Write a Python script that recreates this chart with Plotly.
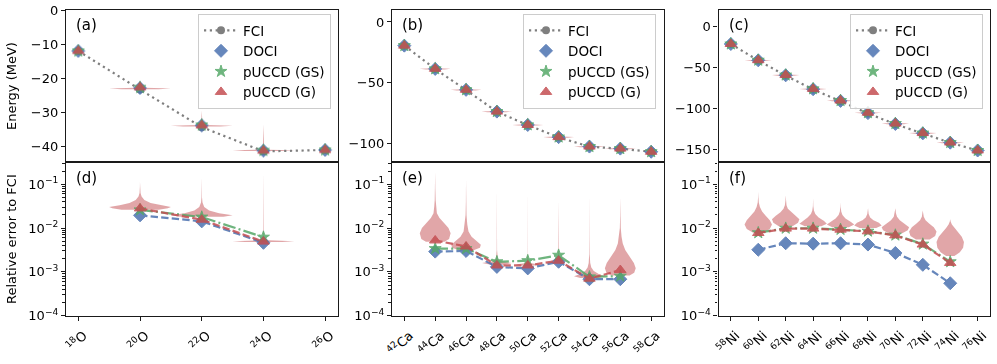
import plotly.graph_objects as go

W, H = 997, 364

BLUE = "#4C72B0"
GREEN = "#55A868"
RED = "#C44E52"
GREY = "#7F7F7F"
VIOLIN = "rgba(196,78,82,0.5)"
INK = "#1a1a1a"
DASH = "7.4px,3.2px"
DASHDOT = "12.8px,3.2px,2px,3.2px"
DOT = "2.2px,3.6px"

# ── oxygen chain ─────────────────────────────────────────────
O_LABELS = ["<sup>18</sup>O", "<sup>20</sup>O", "<sup>22</sup>O", "<sup>24</sup>O", "<sup>26</sup>O"]
O_FCI = [-12.0, -23.3, -34.3, -41.4, -41.0]
O_DOCI = [-12.0, -22.85, -33.8, -41.2, -41.0]
O_GS = [-12.0, -22.7, -33.7, -41.15, -41.0]
O_G = [-12.0, -22.65, -33.77, -41.2, -41.0]
O_ERR_IDX = [1, 2, 3]
O_ERR_DOCI = [0.0195, 0.0142, 0.0046]
O_ERR_GS = [0.026, 0.0178, 0.0062]
O_ERR_G = [0.028, 0.0155, 0.0049]
# violin outlines of the pUCCD (G) runs: (log10 rel. error, half width)
O_VIOLINS = {
    1: [(-1.58, 0.3), (-1.55, 0.45), (-1.52, 0.5), (-1.48, 0.33), (-1.43, 0.17), (-1.36, 0.07),
        (-1.28, 0.025), (-1.2, 0.008), (-1.05, 0.002), (-0.95, 0.001)],
    2: [(-1.74, 0.35), (-1.71, 0.5), (-1.66, 0.28), (-1.6, 0.12), (-1.52, 0.04), (-1.42, 0.012),
        (-1.3, 0.004), (-0.85, 0.001)],
    3: [(-2.32, 0.3), (-2.30, 0.5), (-2.28, 0.08), (-2.2, 0.005), (-0.72, 0.001)],
}
O_E_BASE = [-23.0, -33.9, -41.1]
O_E_TAIL = [-21.2, -29.5, -33.5]

# ── calcium chain ────────────────────────────────────────────
CA_LABELS = [f"<sup>{a}</sup>Ca" for a in (42, 44, 46, 48, 50, 52, 54, 56, 58)]
CA_FCI = [-19.5, -38.8, -56.1, -74.0, -85.0, -95.1, -102.8, -104.5, -107.0]
CA_DOCI = [-19.5, -38.7, -55.95, -73.9, -84.9, -94.95, -102.73, -104.42, -107.0]
CA_GS = [-19.5, -38.66, -55.9, -73.87, -84.85, -94.87, -102.72, -104.42, -107.0]
CA_G = [-19.5, -38.6, -55.88, -73.89, -84.87, -94.93, -102.73, -104.39, -107.0]
CA_ERR_IDX = [1, 2, 3, 4, 5, 6, 7]
CA_ERR_DOCI = [0.0029, 0.0030, 0.0013, 0.0012, 0.0017, 0.00068, 0.00068]
CA_ERR_GS = [0.0034, 0.0034, 0.0017, 0.0018, 0.0024, 0.00077, 0.0008]
CA_ERR_G = [0.0052, 0.0038, 0.0014, 0.0014, 0.0018, 0.0007, 0.0011]
CA_VIOLINS = {
    1: [(-2.31, 0.3), (-2.25, 0.45), (-2.12, 0.5), (-2.0, 0.43), (-1.88, 0.28), (-1.77, 0.14),
        (-1.66, 0.055), (-1.5, 0.03), (-1.36, 0.015), (-1.1, 0.004), (-0.72, 0.001)],
    2: [(-2.52, 0.2), (-2.45, 0.45), (-2.38, 0.48), (-2.3, 0.33), (-2.2, 0.18), (-2.08, 0.08),
        (-1.92, 0.04), (-1.7, 0.015), (-1.4, 0.005), (-0.9, 0.001)],
    3: [(-2.84, 0.2), (-2.8, 0.48), (-2.76, 0.12), (-2.7, 0.03), (-2.5, 0.006), (-1.1, 0.001)],
    4: [(-2.86, 0.15), (-2.83, 0.4), (-2.8, 0.04), (-2.6, 0.004), (-1.06, 0.001)],
    5: [(-2.76, 0.08), (-2.74, 0.25), (-2.7, 0.02), (-2.5, 0.003), (-1.36, 0.001)],
    6: [(-3.14, 0.3), (-3.1, 0.5), (-3.05, 0.3), (-2.98, 0.14), (-2.9, 0.06), (-2.8, 0.025),
        (-2.6, 0.008), (-2.2, 0.003), (-1.2, 0.001)],
    7: [(-3.08, 0.3), (-3.02, 0.45), (-2.92, 0.5), (-2.8, 0.44), (-2.65, 0.3), (-2.5, 0.16),
        (-2.35, 0.08), (-2.2, 0.04), (-2.0, 0.015), (-1.7, 0.005), (-1.3, 0.001)],
}
CA_E_BASE = [-38.6, -55.9, -73.9, -84.9, -94.9, -102.7, -104.4]
CA_E_TAIL = [-31.3, -49.3, -68.0, -77.5, -90.8, -96.2, -99.2]

# ── nickel chain ─────────────────────────────────────────────
NI_LABELS = [f"<sup>{a}</sup>Ni" for a in (58, 60, 62, 64, 66, 68, 70, 72, 74, 76)]
NI_FCI = [-21.2, -41.4, -59.9, -77.0, -91.4, -106.4, -119.6, -131.0, -142.3, -151.8]
NI_DOCI = [-21.2, -41.27, -59.63, -76.66, -91.0, -105.95, -119.28, -130.81, -142.22, -151.8]
NI_GS = [-21.2, -41.08, -59.31, -76.24, -90.56, -105.51, -118.79, -130.45, -142.06, -151.8]
NI_G = [-21.2, -41.08, -59.32, -76.25, -90.56, -105.51, -118.79, -130.45, -142.07, -151.8]
NI_ERR_IDX = [1, 2, 3, 4, 5, 6, 7, 8]
NI_ERR_DOCI = [0.0032, 0.0045, 0.0044, 0.0045, 0.0042, 0.0027, 0.00145, 0.00055]
NI_ERR_GS = [0.0078, 0.0099, 0.0099, 0.0093, 0.0085, 0.0069, 0.0043, 0.0017]
NI_ERR_G = [0.0077, 0.0097, 0.0097, 0.0092, 0.0084, 0.0068, 0.0042, 0.0016]
NI_VIOLINS = {
    1: [(-2.1, 0.2), (-2.02, 0.42), (-1.92, 0.5), (-1.82, 0.42), (-1.72, 0.27), (-1.62, 0.14),
        (-1.52, 0.06), (-1.42, 0.02), (-1.3, 0.006), (-1.17, 0.001)],
    2: [(-1.96, 0.25), (-1.88, 0.45), (-1.8, 0.5), (-1.72, 0.36), (-1.64, 0.19), (-1.56, 0.08),
        (-1.48, 0.03), (-1.38, 0.008), (-1.25, 0.001)],
    3: [(-1.96, 0.3), (-1.9, 0.5), (-1.84, 0.4), (-1.76, 0.2), (-1.68, 0.08), (-1.6, 0.03),
        (-1.5, 0.008), (-1.32, 0.001)],
    4: [(-1.98, 0.3), (-1.92, 0.5), (-1.86, 0.38), (-1.78, 0.18), (-1.7, 0.07), (-1.62, 0.025),
        (-1.52, 0.006), (-1.42, 0.001)],
    5: [(-2.0, 0.3), (-1.94, 0.5), (-1.88, 0.4), (-1.82, 0.2), (-1.76, 0.08), (-1.68, 0.025),
        (-1.55, 0.002)],
    6: [(-2.12, 0.25), (-2.05, 0.45), (-1.98, 0.5), (-1.9, 0.34), (-1.82, 0.16), (-1.74, 0.06),
        (-1.66, 0.02), (-1.55, 0.002)],
    7: [(-2.26, 0.25), (-2.18, 0.45), (-2.08, 0.5), (-1.98, 0.4), (-1.9, 0.24), (-1.82, 0.1),
        (-1.74, 0.035), (-1.6, 0.003)],
    8: [(-2.64, 0.15), (-2.55, 0.35), (-2.45, 0.47), (-2.32, 0.5), (-2.2, 0.42), (-2.1, 0.29),
        (-2.0, 0.15), (-1.92, 0.06), (-1.85, 0.015), (-1.8, 0.002)],
}
NI_E_BASE = [-41.1, -59.3, -76.3, -90.6, -105.5, -118.8, -130.5, -142.1]
NI_E_TAIL = [-38.6, -56.3, -73.0, -87.6, -103.0, -116.5, -128.0, -139.7]

PANELS = [
    dict(labels=O_LABELS, fci=O_FCI, doci=O_DOCI, gs=O_GS, g=O_G, idx=O_ERR_IDX,
         e_doci=O_ERR_DOCI, e_gs=O_ERR_GS, e_g=O_ERR_G, vio=O_VIOLINS,
         ebase=O_E_BASE, etail=O_E_TAIL, erange=[-44.6, 0.15], dtick=10, thick=0.2,
         tag=("(a)", "(d)"), xpx=(66, 337.5), legx=331),
    dict(labels=CA_LABELS, fci=CA_FCI, doci=CA_DOCI, gs=CA_GS, g=CA_G, idx=CA_ERR_IDX,
         e_doci=CA_ERR_DOCI, e_gs=CA_ERR_GS, e_g=CA_ERR_G, vio=CA_VIOLINS,
         ebase=CA_E_BASE, etail=CA_E_TAIL, erange=[-115.7, 10.3], dtick=50, thick=0.5,
         tag=("(b)", "(e)"), xpx=(392, 663.5), legx=656),
    dict(labels=NI_LABELS, fci=NI_FCI, doci=NI_DOCI, gs=NI_GS, g=NI_G, idx=NI_ERR_IDX,
         e_doci=NI_ERR_DOCI, e_gs=NI_ERR_GS, e_g=NI_ERR_G, vio=NI_VIOLINS,
         ebase=NI_E_BASE, etail=NI_E_TAIL, erange=[-166.3, 21.1], dtick=50, thick=0.7,
         tag=("(c)", "(f)"), xpx=(718.5, 990), legx=983),
]

TOP_PX = (9.5, 162.3)
BOT_PX = (162.3, 315.7)


def outline(center, prof):
    xs = [center + w for _, w in prof] + [center - w for _, w in reversed(prof)]
    ys = [v for v, _ in prof] + [v for v, _ in reversed(prof)]
    return xs + [xs[0], None], ys + [ys[0], None]


def ydom(px):
    return [1 - px[1] / H, 1 - px[0] / H]


AX = dict(showline=True, mirror=True, linecolor=INK, linewidth=1.2, showgrid=False,
          zeroline=False, automargin=False, ticks="outside", ticklen=4, tickcolor=INK,
          tickwidth=1, tickfont=dict(size=13, color="black"))

fig = go.Figure()
layout = dict(width=W, height=H, margin=dict(l=0, r=0, t=0, b=0),
              paper_bgcolor="white", plot_bgcolor="white",
              font=dict(family="DejaVu Sans", size=13, color="black"), annotations=[])

for i, p in enumerate(PANELS):
    nt, nb = i + 1, i + 4
    xt, yt = ("x", "y") if nt == 1 else (f"x{nt}", f"y{nt}")
    xb, yb = f"x{nb}", f"y{nb}"
    leg = "legend" if i == 0 else f"legend{i + 1}"
    n = len(p["labels"])
    xs_all = list(range(n))
    xr = [-0.05 * (n - 1), 1.05 * (n - 1)]
    xdom = [p["xpx"][0] / W, p["xpx"][1] / W]

    # energy spread of the pUCCD (G) runs
    vx, vy = [], []
    t = p["thick"]
    for k, base, tail in zip(p["idx"], p["ebase"], p["etail"]):
        prof = [(base - t, 0.3), (base, 0.5), (base + t, 0.08), (base + 3 * t, 0.01), (tail, 0.001)]
        a, b = outline(k, prof)
        vx += a
        vy += b
    fig.add_trace(go.Scatter(x=vx, y=vy, xaxis=xt, yaxis=yt, mode="lines", fill="toself",
                             fillcolor=VIOLIN, line=dict(width=0), hoverinfo="skip",
                             showlegend=False))

    fig.add_trace(go.Scatter(x=xs_all, y=p["fci"], xaxis=xt, yaxis=yt, mode="lines+markers",
                             name="FCI", legend=leg,
                             line=dict(color=GREY, dash=DOT, width=2.2),
                             marker=dict(color=GREY, size=8)))
    fig.add_trace(go.Scatter(x=xs_all, y=p["doci"], xaxis=xt, yaxis=yt, mode="markers",
                             name="DOCI", legend=leg, opacity=0.85,
                             marker=dict(symbol="diamond", size=10, color=BLUE,
                                         line=dict(color=BLUE, width=1))))
    fig.add_trace(go.Scatter(x=xs_all, y=p["gs"], xaxis=xt, yaxis=yt, mode="markers",
                             name="pUCCD (GS)", legend=leg, opacity=0.85,
                             marker=dict(symbol="star", size=9, color=GREEN,
                                         line=dict(color=GREEN, width=1))))
    fig.add_trace(go.Scatter(x=xs_all, y=p["g"], xaxis=xt, yaxis=yt, mode="markers",
                             name="pUCCD (G)", legend=leg, opacity=0.85,
                             marker=dict(symbol="triangle-up", size=10, color=RED,
                                         line=dict(color=RED, width=1))))

    # relative-error violins
    vx, vy = [], []
    for k, prof in p["vio"].items():
        a, b = outline(k, [(10 ** v, w) for v, w in prof])
        vx += a
        vy += b
    fig.add_trace(go.Scatter(x=vx, y=vy, xaxis=xb, yaxis=yb, mode="lines", fill="toself",
                             fillcolor=VIOLIN, line=dict(width=0), hoverinfo="skip",
                             showlegend=False))
    for ys, col, sym, dash in ((p["e_doci"], BLUE, "diamond", DASH),
                               (p["e_gs"], GREEN, "star", DASHDOT),
                               (p["e_g"], RED, "triangle-up", DASH)):
        fig.add_trace(go.Scatter(x=p["idx"], y=ys, xaxis=xb, yaxis=yb, mode="lines+markers",
                                 showlegend=False, opacity=0.85,
                                 line=dict(color=col, dash=dash, width=2.2),
                                 marker=dict(symbol=sym, size=10 if sym != "star" else 9,
                                             color=col, line=dict(color=col, width=1))))

    xkey_t = "xaxis" if nt == 1 else f"xaxis{nt}"
    ykey_t = "yaxis" if nt == 1 else f"yaxis{nt}"
    layout[xkey_t] = dict(AX, domain=xdom, range=xr, anchor=yt, matches=xb,
                          showticklabels=False, ticks="")
    layout[ykey_t] = dict(AX, domain=ydom(TOP_PX), range=p["erange"], anchor=xt,
                          dtick=p["dtick"], tick0=0)
    layout[f"xaxis{nb}"] = dict(AX, domain=xdom, range=xr, anchor=yb, tickmode="array",
                                tickvals=xs_all, ticktext=p["labels"], tickangle=-45,
                                ticklabelshift=5, ticklabelstandoff=2)
    layout[f"yaxis{nb}"] = dict(AX, domain=ydom(BOT_PX), type="log", range=[-4, -0.5],
                                anchor=xb, tickmode="array",
                                tickvals=[1e-4, 1e-3, 1e-2, 1e-1],
                                ticktext=["10<sup>−4</sup>", "10<sup>−3</sup>",
                                          "10<sup>−2</sup>", "10<sup>−1</sup>"],
                                minor=dict(ticks="outside", ticklen=2.5, tickcolor=INK,
                                           tickvals=[m * 10.0 ** e for e in range(-4, 0)
                                                     for m in range(2, 10)]))
    layout[leg] = dict(x=p["legx"] / W, xanchor="right", y=1 - 14 / H, yanchor="top",
                       bgcolor="rgba(255,255,255,0.85)", bordercolor="#cccccc",
                       borderwidth=1, font=dict(size=13.5), tracegroupgap=0, itemwidth=34)

    left = p["xpx"][0]
    layout["annotations"] += [
        dict(text=p["tag"][0], x=(left + 8) / W, y=1 - 25 / H, xref="paper", yref="paper",
             xanchor="left", yanchor="middle", showarrow=False, font=dict(size=15)),
        dict(text=p["tag"][1], x=(left + 8) / W, y=1 - 178 / H, xref="paper", yref="paper",
             xanchor="left", yanchor="middle", showarrow=False, font=dict(size=15)),
    ]

layout["annotations"] += [
    dict(text="Energy (MeV)", x=11 / W, y=1 - 86 / H, xref="paper", yref="paper",
         xanchor="center", yanchor="middle", textangle=-90, showarrow=False,
         font=dict(size=13)),
    dict(text="Relative error to FCI", x=11 / W, y=1 - 239 / H, xref="paper", yref="paper",
         xanchor="center", yanchor="middle", textangle=-90, showarrow=False,
         font=dict(size=13)),
]

fig.update_layout(**layout)
# the page body carries a default 8px margin; drop it so the figure sits at the window corner
fig.write_html("out.html", config={"displayModeBar": False},
               post_script="document.body.style.margin = '0';")
